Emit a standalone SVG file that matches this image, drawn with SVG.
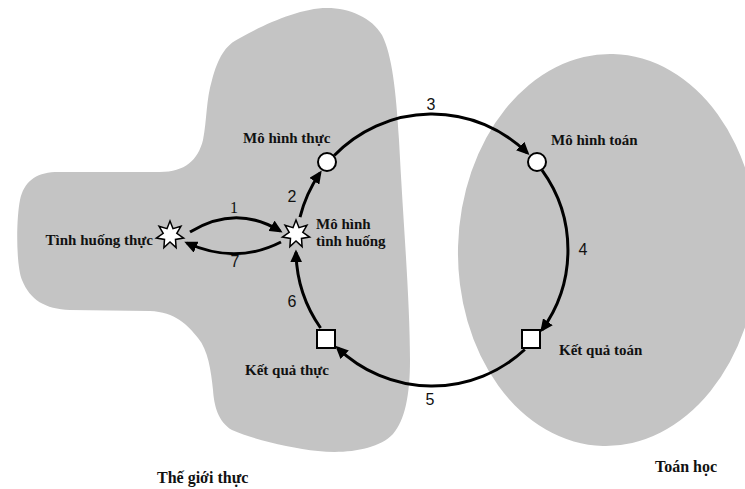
<svg xmlns="http://www.w3.org/2000/svg" width="745" height="489" viewBox="0 0 745 489">
<style>
.region{fill:#c4c4c4;stroke:none}
.conn{fill:none;stroke:#000;stroke-width:3;marker-end:url(#ah)}
.node{fill:#fff;stroke:#000;stroke-width:2}
.star{fill:#fff;stroke:#000;stroke-width:1.5;stroke-linejoin:miter}
.lbl{font-family:"Liberation Serif","Times New Roman",serif;font-weight:bold;font-size:15px;fill:#111}
.big{font-size:16px}
.num{font-family:"Liberation Sans",Arial,sans-serif;font-size:16px;fill:#111;text-anchor:middle}
</style>
<defs>
<marker id="ah" markerWidth="14" markerHeight="12" refX="10" refY="6" orient="auto" markerUnits="userSpaceOnUse">
<path d="M0,0 L13,6 L0,12 Z" fill="#000"/>
</marker>
<path id="starShape" d="M0,-14 L3,-6.3 L10.9,-8.7 L6.8,-1.6 L13.6,3.1 L5.5,4.4 L6.1,12.6 L0,7 L-6.1,12.6 L-5.5,4.4 L-13.6,3.1 L-6.8,-1.6 L-10.9,-8.7 L-3,-6.3 Z"/>
</defs>

<g id="real-world-region">
<path class="region" d="M327,8 C350,8 372,18 382,35 C392,55 396,90 399,140 C403,220 410,300 410,360 C410,395 405,420 393,434 C378,450 345,454 318,451 C290,448 255,440 232,430 C218,422 214,405 213,390 C211,370 208,350 198,338 C188,325 175,312 150,311 L70,310 C45,309 30,300 22,280 C16,265 16,220 20,200 C24,182 35,173 55,172 L160,172 C185,172 198,160 203,140 C207,120 206,100 212,80 C218,58 225,45 240,38 C265,24 300,8 327,8 Z"/>
<text class="lbl big" x="157" y="483">Thế giới thực</text>
</g>

<g id="math-region">
<ellipse class="region" cx="608" cy="250" rx="150" ry="196" transform="rotate(1.5 608 250)"/>
<text class="lbl big" x="655" y="472">Toán học</text>
</g>

<g id="connectors">
<path class="conn" d="M190,232 Q236,204 280,231"/>
<path class="conn" d="M281,242 Q236,265 187,243"/>
<path class="conn" d="M300,217.1 A136,136 0 0 1 320,173"/>
<path class="conn" d="M334.2,155.5 A136,136 0 0 1 527.3,153"/>
<path class="conn" d="M542,170.1 A136,136 0 0 1 542,329.9"/>
<path class="conn" d="M524.8,349.5 A136,136 0 0 1 337.5,347.8"/>
<path class="conn" d="M320.6,328 A136,136 0 0 1 296,252.4"/>
<text class="num" x="234" y="213" style="font-family:'Liberation Serif',serif">1</text>
<text class="num" x="292" y="202">2</text>
<text class="num" x="431" y="110">3</text>
<text class="num" x="583" y="255">4</text>
<text class="num" x="430" y="405">5</text>
<text class="num" x="292" y="307">6</text>
<text class="num" x="235" y="267">7</text>
</g>

<g id="tinh-huong-thuc">
<use href="#starShape" class="star" transform="translate(170,235)"/>
<text class="lbl" x="153" y="245" text-anchor="end">Tình huống thực</text>
</g>

<g id="mo-hinh-tinh-huong">
<use href="#starShape" class="star" transform="translate(296,234)"/>
<text class="lbl" x="316" y="229">Mô hình</text>
<text class="lbl" x="316" y="246">tình huống</text>
</g>

<g id="mo-hinh-thuc">
<circle class="node" cx="327" cy="162" r="9"/>
<text class="lbl" x="243" y="143">Mô hình thực</text>
</g>

<g id="mo-hinh-toan">
<circle class="node" cx="537" cy="162" r="9"/>
<text class="lbl" x="551" y="145">Mô hình toán</text>
</g>

<g id="ket-qua-toan">
<rect class="node" x="522" y="330" width="18" height="18"/>
<text class="lbl" x="559" y="355">Kết quả toán</text>
</g>

<g id="ket-qua-thuc">
<rect class="node" x="317" y="330" width="18" height="18"/>
<text class="lbl" x="245" y="375">Kết quả thực</text>
</g>
</svg>
